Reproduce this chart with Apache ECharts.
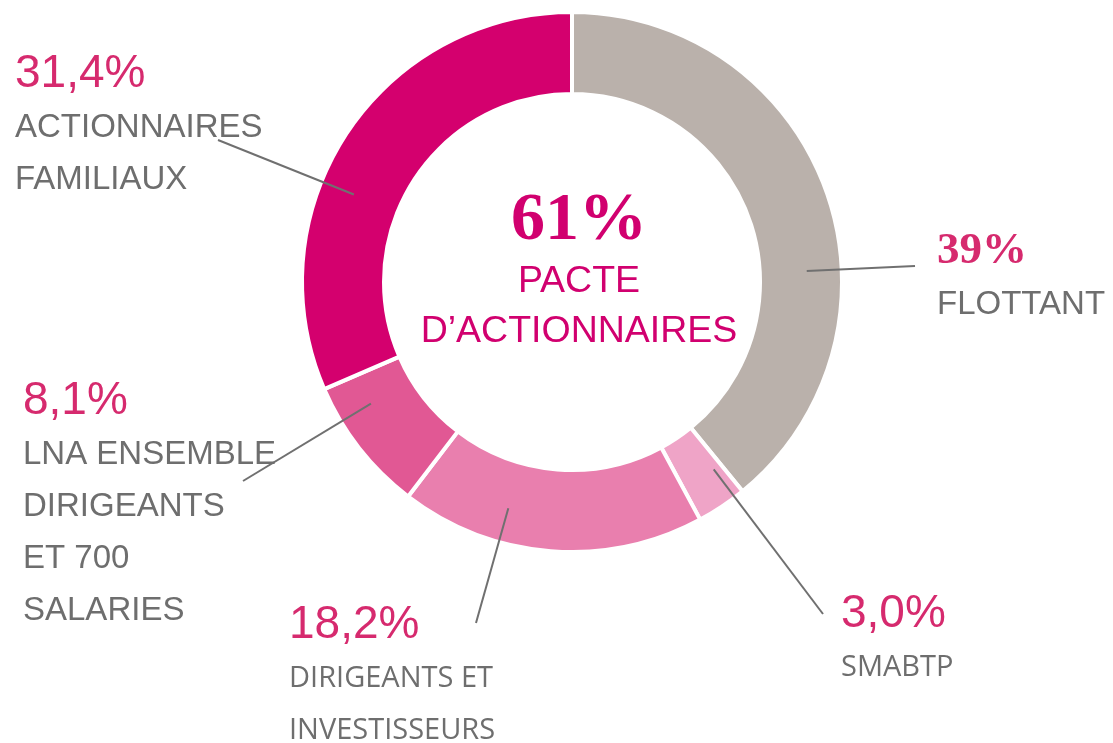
<!DOCTYPE html>
<html><head><meta charset="utf-8">
<script src="https://cdn.jsdelivr.net/npm/echarts@6/dist/echarts.min.js"></script>
<style>html,body{margin:0;padding:0;background:#fff}#c{width:1113px;height:743px}</style>
</head><body><div id="c"></div>
<script>
const categories = ['FLOTTANT', 'SMABTP', 'DIRIGEANTS ET\nINVESTISSEURS', 'LNA ENSEMBLE\nDIRIGEANTS\nET 700\nSALARIES', 'ACTIONNAIRES\nFAMILIAUX'];
const values = [39, 3.0, 18.2, 8.1, 31.4];
const decimals = [0, 1, 1, 1, 1];
const centerLines = ['PACTE', 'D’ACTIONNAIRES'];
const colors = ['#bab1ab', '#efa4c7', '#e97fae', '#e15894', '#d4006e'];

const pacte = Math.round(values.slice(1).reduce((a, b) => a + b, 0));
const fmtPct = (v, d) => v.toFixed(d).replace('.', ',') + '%';

const CX = 572, CY = 282, RING_MID = 235;
const labelPos = [[937, 223], [841, 586], [289, 597], [23, 373], [15, 46]];
const lineEnd = [[915, 266], [823, 614], [476, 623], [243, 481], [218, 140]];

const chart = echarts.init(document.getElementById('c'));
chart.setOption({
  animation: false,
  backgroundColor: '#ffffff',
  title: {
    text: '{a|' + pacte + '%}\n' + centerLines.map(l => '{b|' + l + '}').join('\n'),
    left: 579, top: 185, textAlign: 'center', padding: 0,
    textStyle: {
      fontWeight: 'normal',
      rich: {
        a: { fontFamily: 'Liberation Serif', fontWeight: 'bold', fontSize: 68, color: '#d1006f', lineHeight: 72 },
        b: { fontFamily: 'Liberation Sans', fontWeight: 'normal', fontSize: 37.5, color: '#d1006f', lineHeight: 50 }
      }
    }
  },
  series: [
    {
      type: 'pie', z: 2, center: [CX, CY], radius: [188, 270], startAngle: 90,
      silent: true, avoidLabelOverlap: false,
      label: { show: false }, labelLine: { show: false },
      itemStyle: { borderColor: '#ffffff', borderWidth: 4 },
      data: categories.map((n, i) => ({ name: n, value: values[i], itemStyle: { color: colors[i] } }))
    },
    {
      type: 'pie', z: 5, center: [CX, CY], radius: [0, RING_MID], startAngle: 90,
      silent: true, avoidLabelOverlap: false,
      itemStyle: { color: 'rgba(0,0,0,0)', borderWidth: 0 },
      emphasis: { disabled: true },
      label: {
        show: true, position: 'outside', color: '#6e6e6e',
        formatter: (p) => {
          const i = p.dataIndex;
          const ps = i === 0 ? 'ps' : 'p';
          const ts = (i === 1 || i === 2) ? 's' : 't';
          return '{' + ps + '|' + fmtPct(values[i], decimals[i]) + '}\n' +
            categories[i].split('\n').map(l => '{' + ts + '|' + l + '}').join('\n');
        },
        rich: {
          p: { fontFamily: 'Liberation Sans', fontSize: 46, color: '#d62a6e', lineHeight: 56 },
          ps: { fontFamily: 'Liberation Serif', fontWeight: 'bold', fontSize: 45, color: '#d62a6e', lineHeight: 56 },
          t: { fontFamily: 'Liberation Sans', fontSize: 33, color: '#6e6e6e', lineHeight: 52 },
          s: { fontFamily: 'Open Sans', fontSize: 29, color: '#6e6e6e', lineHeight: 52 }
        }
      },
      labelLine: { show: true, length: 10, length2: 0, lineStyle: { color: '#707070', width: 2 } },
      labelLayout: (params) => {
        const i = params.dataIndex;
        const e = lineEnd[i];
        const dx = e[0] - CX, dy = e[1] - CY;
        const len = Math.sqrt(dx * dx + dy * dy);
        const s = [CX + RING_MID * dx / len, CY + RING_MID * dy / len];
        return {
          x: labelPos[i][0], y: labelPos[i][1], align: 'left', verticalAlign: 'top',
          labelLinePoints: [s, e]
        };
      },
      data: categories.map((n, i) => ({ name: n, value: values[i] }))
    }
  ]
});
</script></body></html>
